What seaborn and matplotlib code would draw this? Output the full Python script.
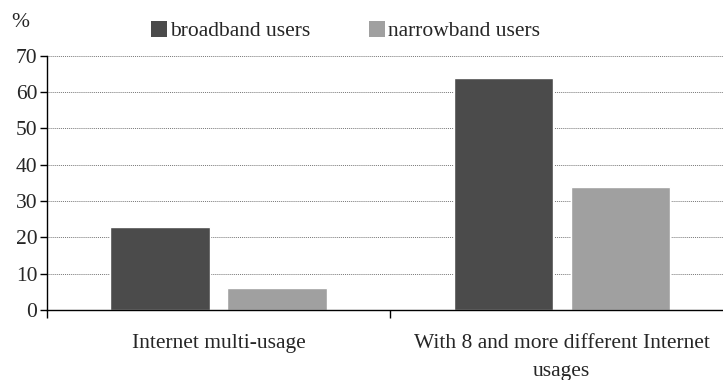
import matplotlib
matplotlib.use("Agg")
import matplotlib.pyplot as plt
import seaborn as sns
import pandas as pd
from matplotlib.patches import Patch

categories = ["Internet multi-usage", "With 8 and more different Internet\nusages"]
series = ["broadband users", "narrowband users"]
broadband = [23, 64]
narrowband = [6, 34]
yticks = [0, 10, 20, 30, 40, 50, 60, 70]
colors = ["#4b4b4b", "#a0a0a0"]

df = pd.DataFrame({
    "category": categories * 2,
    "series": [series[0]] * 2 + [series[1]] * 2,
    "value": broadband + narrowband,
})

sns.set_style("white")
plt.rcParams["font.family"] = ["Liberation Serif", "DejaVu Serif"]
FS = 15.5
plt.rcParams["font.size"] = FS

fig = plt.figure(figsize=(7.23, 3.80), dpi=100)
ax = fig.add_axes([0.065, 0.184, 0.949, 0.669])

sns.barplot(data=df, x="category", y="value", hue="series", palette=colors,
            width=0.682, gap=0.153, ax=ax, legend=False, saturation=1)

ax.set_ylim(0, 70)
ax.set_xlim(-0.5, 1.5)
ax.set_yticks(yticks)
ax.set_yticklabels([str(t) for t in yticks], fontsize=FS)
ax.yaxis.grid(True, color="#777777", linestyle=(0, (1, 1)), linewidth=0.7)
ax.xaxis.grid(False)
ax.set_axisbelow(True)
for s in ["top", "right"]:
    ax.spines[s].set_visible(False)
for s in ["left", "bottom"]:
    ax.spines[s].set_color("black")
    ax.spines[s].set_linewidth(1.0)

ax.set_xticks([-0.5, 0.5, 1.5])
ax.set_xticklabels([])
ax.set_xticks([0, 1], minor=True)
ax.set_xticklabels(categories, minor=True, fontsize=FS, linespacing=1.7, va="top")
ax.tick_params(axis="x", which="major", length=6, direction="out", color="black",
               width=1, bottom=True)
ax.tick_params(axis="x", which="minor", length=0, pad=17, bottom=True)
ax.tick_params(axis="y", length=5, direction="out", color="black", width=1, pad=2, left=True)
ax.set_xlabel("")
ax.set_ylabel("")

fig.text(0.016, 0.94, "%", fontsize=FS, ha="left", va="center")

handles = [Patch(facecolor=c, edgecolor="none") for c in colors]
fig.legend(handles, series, loc="center", bbox_to_anchor=(0.478, 0.918), ncol=2,
           frameon=False, fontsize=FS, handlelength=0.75, handleheight=0.75,
           handletextpad=0.15, columnspacing=2.7)

fig.savefig("out.png", dpi=100)
